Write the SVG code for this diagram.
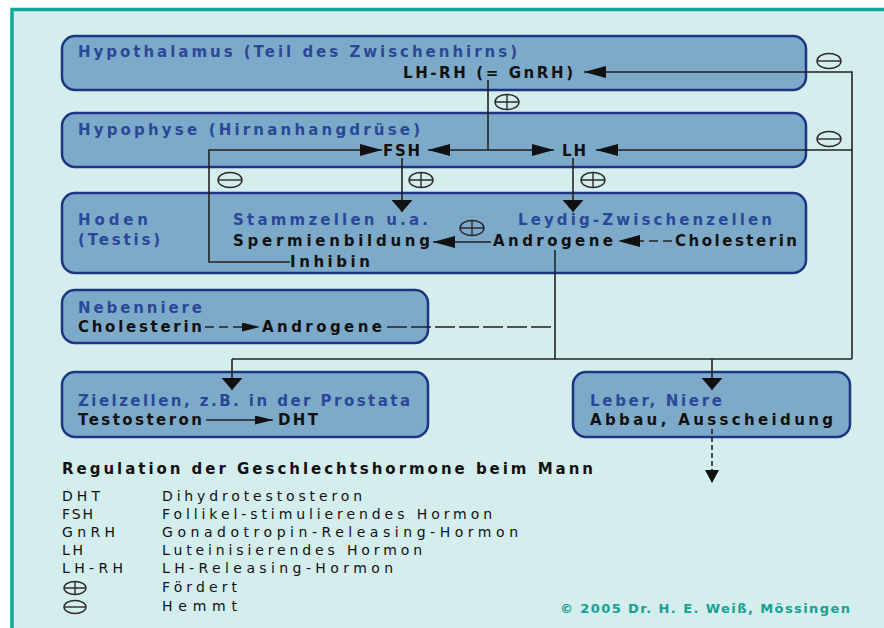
<svg xmlns="http://www.w3.org/2000/svg" width="884" height="628" viewBox="0 0 884 628">
<style>
.box{fill:#7eaac9;stroke:#1c3585;stroke-width:2.5}
.t{font-family:"DejaVu Sans","Liberation Sans",sans-serif;font-size:15px;fill:#2a4898;font-weight:bold}
.b{font-family:"DejaVu Sans","Liberation Sans",sans-serif;font-size:15px;fill:#111;font-weight:bold}
.l{font-family:"DejaVu Sans","Liberation Sans",sans-serif;font-size:14px;fill:#111}
.s{fill:none;stroke:#2a2a2a;stroke-width:1.4}
.c{fill:none;stroke:#222;stroke-width:1.6}
.d{stroke-dasharray:20 4}
.d2{stroke-dasharray:9 5}
.d3{stroke-dasharray:5 3}
.cr{font-family:"DejaVu Sans","Liberation Sans",sans-serif;font-size:13px;fill:#14a193;font-weight:bold}
</style>
<defs>
<marker id="ah" viewBox="0 0 22 12" refX="22" refY="6" markerWidth="22" markerHeight="12" markerUnits="userSpaceOnUse" orient="auto"><path d="M0,0L22,6L0,12z" fill="#111"/></marker>
<marker id="av" viewBox="0 0 12 21" refX="12" refY="10.5" markerWidth="12" markerHeight="21" markerUnits="userSpaceOnUse" orient="auto"><path d="M0,0L12,10.5L0,21z" fill="#111"/></marker>
<marker id="as" viewBox="0 0 18 9" refX="18" refY="4.5" markerWidth="18" markerHeight="9" markerUnits="userSpaceOnUse" orient="auto"><path d="M0,0L18,4.5L0,9z" fill="#111"/></marker>
<marker id="aw" viewBox="0 0 13 14" refX="13" refY="7" markerWidth="13" markerHeight="14" markerUnits="userSpaceOnUse" orient="auto"><path d="M0,0L13,7L0,14z" fill="#111"/></marker>
<g id="plus" class="s"><ellipse cx="0" cy="0" rx="12" ry="7.5"/><path d="M-12,0H12M0,-7.5V7.5"/></g>
<g id="minus" class="s"><ellipse cx="0" cy="0" rx="12" ry="7.5"/><path d="M-12,0H12"/></g>
<g id="lplus" class="s"><ellipse cx="0" cy="0" rx="11" ry="6.5"/><path d="M-11,0H11M0,-6.5V6.5"/></g>
<g id="lminus" class="s"><ellipse cx="0" cy="0" rx="11" ry="6.5"/><path d="M-11,0H11"/></g>
</defs>
<rect x="0" y="0" width="884" height="628" fill="#ffffff"/>
<rect x="12" y="9.5" width="880" height="630" fill="#d4eded" stroke="#10a89b" stroke-width="3.5"/>

<g id="hypothalamus">
<rect class="box" x="62" y="36" width="744" height="54" rx="13"/>
<text class="t" x="78" y="57" textLength="439" lengthAdjust="spacing">Hypothalamus (Teil des Zwischenhirns)</text>
<text class="b" x="403" y="78" textLength="170" lengthAdjust="spacing">LH-RH (= GnRH)</text>
</g>
<g id="hypophyse">
<rect class="box" x="62" y="113" width="744" height="54" rx="13"/>
<text class="t" x="78" y="135" textLength="342" lengthAdjust="spacing">Hypophyse (Hirnanhangdrüse)</text>
<text class="b" x="383" y="156" textLength="37" lengthAdjust="spacing">FSH</text>
<text class="b" x="562" y="156" textLength="24" lengthAdjust="spacing">LH</text>
</g>
<g id="hoden">
<rect class="box" x="62" y="193" width="744" height="80" rx="13"/>
<text class="t" x="78" y="225" textLength="70" lengthAdjust="spacing">Hoden</text>
<text class="t" x="78" y="245" textLength="82" lengthAdjust="spacing">(Testis)</text>
<text class="t" x="233" y="225" textLength="195" lengthAdjust="spacing">Stammzellen u.a.</text>
<text class="b" x="233" y="246" textLength="197" lengthAdjust="spacing">Spermienbildung</text>
<text class="b" x="290" y="267" textLength="80" lengthAdjust="spacing">Inhibin</text>
<text class="t" x="518" y="225" textLength="254" lengthAdjust="spacing">Leydig-Zwischenzellen</text>
<text class="b" x="493" y="246" textLength="120" lengthAdjust="spacing">Androgene</text>
<text class="b" x="675" y="246" textLength="122" lengthAdjust="spacing">Cholesterin</text>
</g>
<g id="nebenniere">
<rect class="box" x="62" y="290" width="366" height="53" rx="13"/>
<text class="t" x="78" y="313" textLength="124" lengthAdjust="spacing">Nebenniere</text>
<text class="b" x="78" y="332" textLength="124" lengthAdjust="spacing">Cholesterin</text>
<text class="b" x="262" y="332" textLength="120" lengthAdjust="spacing">Androgene</text>
</g>
<g id="zielzellen">
<rect class="box" x="62" y="372" width="366" height="65" rx="13"/>
<text class="t" x="78" y="406" textLength="332" lengthAdjust="spacing">Zielzellen, z.B. in der Prostata</text>
<text class="b" x="78" y="425" textLength="124" lengthAdjust="spacing">Testosteron</text>
<text class="b" x="278" y="425" textLength="40" lengthAdjust="spacing">DHT</text>
</g>
<g id="leber">
<rect class="box" x="573" y="372" width="277" height="65" rx="13"/>
<text class="t" x="590" y="406" textLength="132" lengthAdjust="spacing">Leber, Niere</text>
<text class="b" x="590" y="425" textLength="243" lengthAdjust="spacing">Abbau, Ausscheidung</text>
</g>

<g id="connectors">
<path class="c" d="M852,359V72H584" marker-end="url(#ah)"/>
<path class="c" d="M852,150H596" marker-end="url(#ah)"/>
<path class="c" d="M232,359H852"/>
<path class="c" d="M232,359V390" marker-end="url(#av)"/>
<path class="c" d="M712,359V390" marker-end="url(#av)"/>
<path class="c" d="M555,250V359"/>
<path class="c d" d="M387,327H555"/>
<path class="c" d="M488,80V150"/>
<path class="c" d="M488,150H428" marker-end="url(#ah)"/>
<path class="c" d="M488,150H554" marker-end="url(#ah)"/>
<path class="c" d="M290,262H209V150H382" marker-end="url(#ah)"/>
<path class="c" d="M402,158V212" marker-end="url(#av)"/>
<path class="c" d="M573,158V212" marker-end="url(#av)"/>
<path class="c" d="M491,242H433" marker-end="url(#ah)"/>
<path class="c d2" d="M672,241H618" marker-end="url(#ah)"/>
<path class="c d2" d="M205,327H260" marker-end="url(#as)"/>
<path class="c" d="M206,420H273" marker-end="url(#as)"/>
<path class="c d3" d="M712,429V483" marker-end="url(#aw)"/>
<use href="#minus" x="829" y="61"/>
<use href="#minus" x="829" y="139"/>
<use href="#plus" x="507" y="102"/>
<use href="#minus" x="230" y="180"/>
<use href="#plus" x="421" y="180"/>
<use href="#plus" x="593" y="180"/>
<use href="#plus" x="472" y="228"/>
</g>

<g id="legend">
<text class="b" x="62" y="474" textLength="531" lengthAdjust="spacing">Regulation der Geschlechtshormone beim Mann</text>
<text class="l" x="62" y="501" textLength="38" lengthAdjust="spacing">DHT</text>
<text class="l" x="162" y="501" textLength="200" lengthAdjust="spacing">Dihydrotestosteron</text>
<text class="l" x="62" y="519" textLength="31" lengthAdjust="spacing">FSH</text>
<text class="l" x="162" y="519" textLength="330" lengthAdjust="spacing">Follikel-stimulierendes Hormon</text>
<text class="l" x="62" y="537" textLength="53" lengthAdjust="spacing">GnRH</text>
<text class="l" x="162" y="537" textLength="356" lengthAdjust="spacing">Gonadotropin-Releasing-Hormon</text>
<text class="l" x="62" y="555" textLength="21" lengthAdjust="spacing">LH</text>
<text class="l" x="162" y="555" textLength="260" lengthAdjust="spacing">Luteinisierendes Hormon</text>
<text class="l" x="62" y="573" textLength="61" lengthAdjust="spacing">LH-RH</text>
<text class="l" x="162" y="573" textLength="231" lengthAdjust="spacing">LH-Releasing-Hormon</text>
<use href="#lplus" x="75" y="588"/>
<text class="l" x="162" y="592" textLength="75" lengthAdjust="spacing">Fördert</text>
<use href="#lminus" x="75" y="607"/>
<text class="l" x="162" y="611" textLength="75" lengthAdjust="spacing">Hemmt</text>
<text class="cr" x="560" y="613" textLength="290" lengthAdjust="spacing">© 2005 Dr. H. E. Weiß, Mössingen</text>
</g>
</svg>
